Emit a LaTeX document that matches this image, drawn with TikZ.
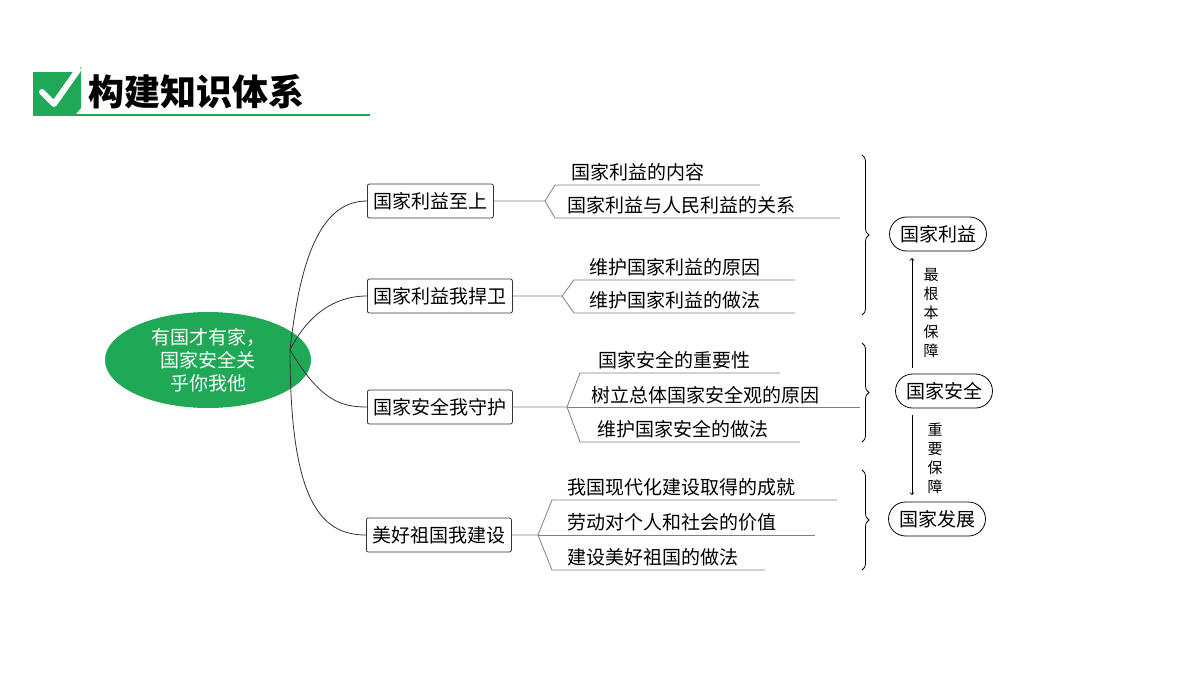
\documentclass[tikz,border=0pt]{standalone}
\usepackage{fontspec}
\setmainfont{Noto Sans CJK SC}
\usetikzlibrary{shapes.misc,shapes.geometric,decorations.pathreplacing}
\definecolor{mygreen}{HTML}{1FA855}
\definecolor{lineg}{HTML}{7F7F7F}
\begin{document}
\begin{tikzpicture}[x=1pt,y=-1pt,
  topic/.style={draw=black!80,rounded corners=2pt,thick,minimum height=34,inner xsep=6pt,font=\fontsize{19}{22}\selectfont},
  item/.style={font=\fontsize{19}{22}\selectfont,inner sep=1pt},
  capbox/.style={draw,thick,rounded rectangle,minimum height=34,inner xsep=8pt,font=\fontsize{19}{22}\selectfont},
  ul/.style={draw=lineg,thick},
  br/.style={thick,decorate,decoration={brace,amplitude=7pt}},
  vlab/.style={font=\fontsize{15}{19}\selectfont,align=center}]
\useasboundingbox (0,0) rectangle (1200,675);
% title
\fill[mygreen] (33,72) -- (76,72) -- (81,67) -- (81,108) -- (76,114) -- (33,114) -- cycle;
\draw[white,line width=6pt,line cap=round,line join=round] (42,92) -- (54,104) -- (78,70);
\node[anchor=west,inner sep=0] (title) at (88,92) {\fontsize{36}{40}\selectfont\bfseries 构建知识体系};
\draw[mygreen,line width=2pt] (33,115) -- (370,115);
% central
\node[ellipse,fill=mygreen,minimum width=206,minimum height=96,align=center,text=white,font=\fontsize{19}{23}\selectfont,inner sep=0] (c) at (208,360) {有国才有家，\\ 国家安全关\\ 乎你我他};
% topics
\node[topic,anchor=west] (t1) at (367,201) {国家利益至上};
\node[topic,anchor=west] (t2) at (367,296) {国家利益我捍卫};
\node[topic,anchor=west] (t3) at (367,407) {国家安全我守护};
\node[topic,anchor=west] (t4) at (366,535) {美好祖国我建设};
\coordinate (cs) at (290,350);
\draw[thick,black!80] (cs) .. controls (300,260) and (320,201) .. (t1.west);
\draw[thick,black!80] (cs) .. controls (305,320) and (330,296) .. (t2.west);
\draw[thick,black!80] (cs) .. controls (320,400) and (340,407) .. (t3.west);
\draw[thick,black!80] (cs) .. controls (290,500) and (320,535) .. (t4.west);
% group 1
\node[item,anchor=south west] (a1) at (570,182) {国家利益的内容};
\node[item,anchor=south west] (a2) at (566,215) {国家利益与人民利益的关系};
\coordinate (a1l) at (555,185); \coordinate (a2l) at (555,218);
\draw[ul] (t1.east) -- (545,201) -- (a1l) -- (760,185);
\draw[ul] (545,201) -- (a2l) -- (840,218);
% group 2
\node[item,anchor=south west] (b1) at (588,277) {维护国家利益的原因};
\node[item,anchor=south west] (b2) at (588,310) {维护国家利益的做法};
\draw[ul] (t2.east) -- (562,296) -- (574,280) -- (795,280);
\draw[ul] (562,296) -- (574,313) -- (795,313);
% group 3
\node[item,anchor=south west] (c1) at (597,370) {国家安全的重要性};
\node[item,anchor=south west] (c2) at (590,405) {树立总体国家安全观的原因};
\node[item,anchor=south west] (c3) at (596,439) {维护国家安全的做法};
\draw[ul] (t3.east) -- (567,407) -- (580,373) -- (780,373);
\draw[ul] (567,407) -- (860,407);
\draw[ul] (567,407) -- (580,442) -- (800,442);
% group 4
\node[item,anchor=south west] (d1) at (566,497) {我国现代化建设取得的成就};
\node[item,anchor=south west] (d2) at (566,532) {劳动对个人和社会的价值};
\node[item,anchor=south west] (d3) at (566,567) {建设美好祖国的做法};
\draw[ul] (t4.east) -- (538,535) -- (552,500) -- (837,500);
\draw[ul] (538,535) -- (815,535);
\draw[ul] (538,535) -- (552,570) -- (765,570);
% braces and outcomes
\node[capbox] (n1) at (938,234) {国家利益};
\node[capbox] (n2) at (944,391) {国家安全};
\node[capbox] (n3) at (937,519) {国家发展};
\draw[br] (862,155) -- (862,315);
\draw[br] (862,343) -- (862,442);
\draw[br] (862,470) -- (862,570);
\draw[thick,->] (912,368) -- (912,258);
\draw[thick,->] (912,415) -- (912,495);
\node[vlab] (l1) at (931,313) {最\\根\\本\\保\\障};
\node[vlab] (l2) at (935,458) {重\\要\\保\\障};
\end{tikzpicture}
\end{document}
